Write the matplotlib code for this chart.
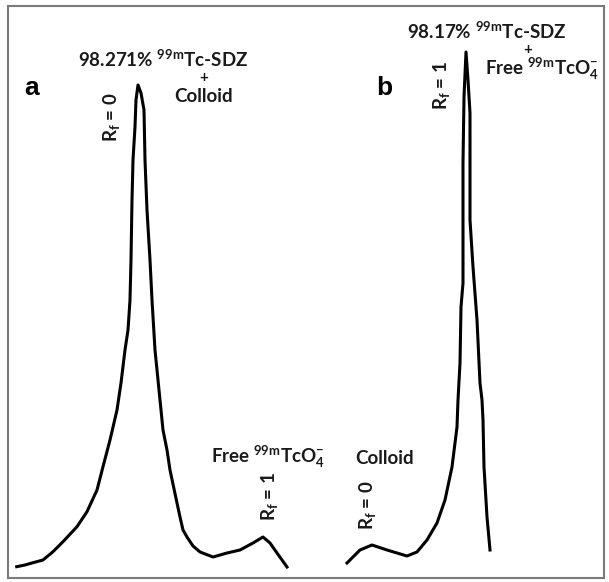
import matplotlib
matplotlib.use("Agg")
import matplotlib.pyplot as plt

plt.rcParams['font.family'] = ['Lato', 'DejaVu Sans']
plt.rcParams['mathtext.fontset'] = 'custom'
plt.rcParams['mathtext.rm'] = 'Lato:bold'
plt.rcParams['mathtext.bf'] = 'Lato:bold'
plt.rcParams['mathtext.it'] = 'Lato:bold'

H = 582  # image height used to express counts (count = H - row)

# Radio-TLC trace (a): position along strip, counts
pos_a = [16.7, 25, 33, 43, 53, 63, 77, 87, 97, 103, 110, 117, 121, 125, 128, 130,
         131, 132, 133, 135, 136, 138, 141, 144, 145, 147, 150, 152, 155, 160, 163,
         167, 170, 177, 180, 183, 187, 193, 200, 213, 227, 240, 253, 263, 270, 277, 287]
row_a = [566.7, 565, 562.7, 560, 551.7, 541.7, 526.7, 511.7, 490, 466.7, 440, 410, 383,
         350, 330, 300, 260, 200, 160, 127, 100, 85, 93, 110, 160, 210, 260, 300, 350,
         400, 430, 450, 470, 503, 517, 530, 537, 546, 552, 557, 553, 550, 543, 537, 543,
         553, 567]
cnt_a = [H - r for r in row_a]

# Radio-TLC trace (b)
pos_b = [347, 353, 360, 372, 387, 397, 407, 417, 427, 437, 445, 452, 457, 458, 460, 461,
         463, 463, 463, 464, 466, 468, 470, 470, 470, 473, 477, 480, 482, 483, 484, 487, 490]
row_b = [563, 557, 550, 545, 550, 553, 556, 552, 540, 523, 500, 467, 427, 400, 363, 307,
         283, 230, 163, 97, 52, 80, 113, 163, 220, 267, 320, 383, 400, 420, 467, 517, 550]
cnt_b = [H - r for r in row_b]

fig = plt.figure(figsize=(6.09, 5.82), dpi=100)
L, R, T, B = 8, 604, 6, 578
ax = fig.add_axes([L / 609, (H - B) / H, (R - L) / 609, (B - T) / H])
ax.set_xlim(L, R)
ax.set_ylim(H - B, H - T)
ax.set_xticks([])
ax.set_yticks([])
for s in ax.spines.values():
    s.set_color('#7a7a7a')
    s.set_linewidth(1.5)

ax.plot(pos_a, cnt_a, color='black', lw=2.2, solid_joinstyle='round')
ax.plot(pos_b, cnt_b, color='black', lw=2.2, solid_joinstyle='round')

fs = 13.5
tk = dict(fontsize=fs, fontweight='bold', color='#1a1a1a')

def T_(x, y, s, **kw):
    d = dict(tk)
    d.update(kw)
    ax.text(x, H - y, s, **d)

# panel letters
T_(32, 88, 'a', fontsize=19, ha='center', va='center', color='black',
   family=['Liberation Sans', 'DejaVu Sans'])
T_(384, 88, 'b', fontsize=19, ha='center', va='center', color='black',
   family=['Liberation Sans', 'DejaVu Sans'])

# panel a labels
T_(163, 59, r'98.271% $^{99m}$Tc-SDZ', ha='center', va='center')
T_(204, 78, '+', fontsize=11, ha='center', va='center')
T_(204, 96, 'Colloid', ha='center', va='center')
T_(112, 117, r'R$_{f}$ = 0', rotation=90, ha='center', va='center')
T_(268, 457, r'Free $^{99m}$TcO$_{4}^{-}$', ha='center', va='center')
T_(270, 496, r'R$_{f}$ = 1', rotation=90, ha='center', va='center')

# panel b labels
T_(487, 31, r'98.17% $^{99m}$Tc-SDZ', ha='center', va='center')
T_(528, 50, '+', fontsize=11, ha='center', va='center')
T_(542, 69, r'Free $^{99m}$TcO$_{4}^{-}$', ha='center', va='center')
T_(442, 85, r'R$_{f}$ = 1', rotation=90, ha='center', va='center')
T_(385, 458, 'Colloid', ha='center', va='center')
T_(368, 505, r'R$_{f}$ = 0', rotation=90, ha='center', va='center')

fig.savefig('out.png', dpi=100)
